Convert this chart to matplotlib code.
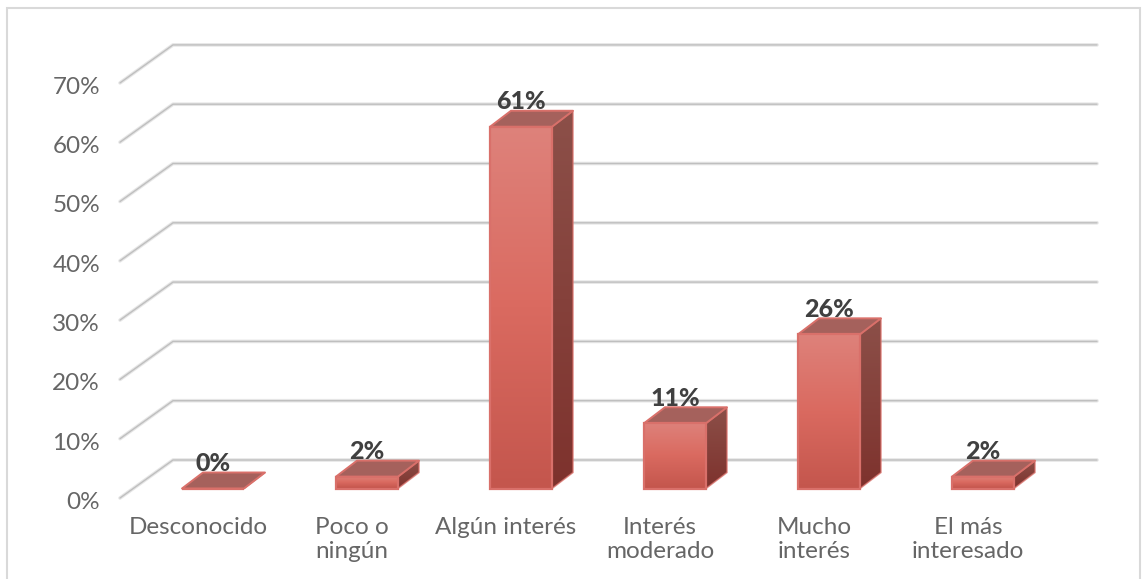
import matplotlib
matplotlib.use("Agg")
import matplotlib.pyplot as plt
import numpy as np
from matplotlib.colors import LinearSegmentedColormap
from matplotlib.patches import Polygon, Rectangle

categories = ["Desconocido", "Poco o\nningún", "Algún interés", "Interés\nmoderado", "Mucho\ninterés", "El más\ninteresado"]
values = [0, 2, 61, 11, 26, 2]
ticks = [0, 10, 20, 30, 40, 50, 60, 70]

W, H = 1147, 579
fig = plt.figure(figsize=(W / 100, H / 100), dpi=100)
ax = fig.add_axes([0, 0, 1, 1])
# scales: x in category units, y in percent
PX_X, PX_Y = 154.0, 5.93
X0, Y0 = 213.0, 488.5
ax.axis("off")
plt.rcParams["font.family"] = "Lato"

def dx(p): return p / PX_X
def dy(p): return p / PX_Y

FRONT_X, BACK_X, END_X = dx(120 - X0), dx(173 - X0), dx(1097 - X0)
FRONT_OFF, BACK_OFF = dy(-9.5), dy(28.5)

# frame
ax.add_patch(Rectangle((dx(7 - X0), dy(Y0 - 600)), dx(1133), dy(592), fill=False, ec="#D9D9D9", lw=1.5, zorder=1))

for t in ticks:
    xs = [FRONT_X, BACK_X, END_X]
    ys = [t + FRONT_OFF, t + BACK_OFF, t + BACK_OFF]
    ax.plot(xs, ys, color="#E6E6E6", lw=2.6, zorder=2, solid_capstyle="round")
    ax.plot(xs, ys, color="#BFBFBF", lw=1.0, zorder=2.1, solid_capstyle="round")
    ax.text(dx(100 - X0), t + FRONT_OFF - dy(4.5), f"{t}%", ha="right", va="center", fontsize=17.5,
            color="#666666", zorder=5)

front_cmap = LinearSegmentedColormap.from_list("f", ["#DE827B", "#DA6A60", "#C4564D"])
side_cmap = LinearSegmentedColormap.from_list("s", ["#8C5049", "#7E322D"])
WID, DX, DY = dx(62), dx(21), dy(16)
EDGE = "#D9706A"

def grad(poly, cmap, y0, y1, z):
    if y1 <= y0:
        return
    xa = [p[0] for p in poly]
    im = ax.imshow(np.linspace(0, 1, 256).reshape(-1, 1), cmap=cmap, aspect="auto", vmin=0, vmax=1,
                   extent=[min(xa), max(xa), y0, y1], zorder=z)
    patch = Polygon(poly, closed=True, transform=ax.transData, fc="none", ec="none")
    ax.add_patch(patch)
    im.set_clip_path(patch)

for i, v in enumerate(values):
    L, R = i - WID / 2, i + WID / 2
    z = 3 + i * 0.01
    front = [(L, 0), (R, 0), (R, v), (L, v)]
    side = [(R, 0), (R + DX, DY), (R + DX, v + DY), (R, v)]
    top = [(L, v), (R, v), (R + DX, v + DY), (L + DX, v + DY)]
    grad(side, side_cmap, 0, v + DY, z)
    ax.add_patch(Polygon(side, closed=True, fc="none", ec=EDGE, lw=1.1, alpha=.75, zorder=z + .001))
    ax.add_patch(Polygon(top, closed=True, fc="#A5615C", ec=EDGE, lw=1.4, joinstyle="round", zorder=z + .002))
    grad(front, front_cmap, 0, v, z + .003)
    ax.add_patch(Polygon(front, closed=True, fc="none", ec=EDGE, lw=1.6, zorder=z + .004))
    ax.text(i, v + dy(25), f"{v}%", ha="center", va="center", fontsize=18,
            fontweight="black", color="#404040", zorder=6)
    ax.text(i + dx(-15), dy(488.5 - 517), categories[i], ha="center", va="top", fontsize=17.5,
            color="#666666", linespacing=1.2, zorder=5)

ax.set_xlim(-X0 / PX_X, (W - X0) / PX_X)
ax.set_ylim((Y0 - H) / PX_Y, Y0 / PX_Y)
fig.savefig("out.png", dpi=100, facecolor="white")
